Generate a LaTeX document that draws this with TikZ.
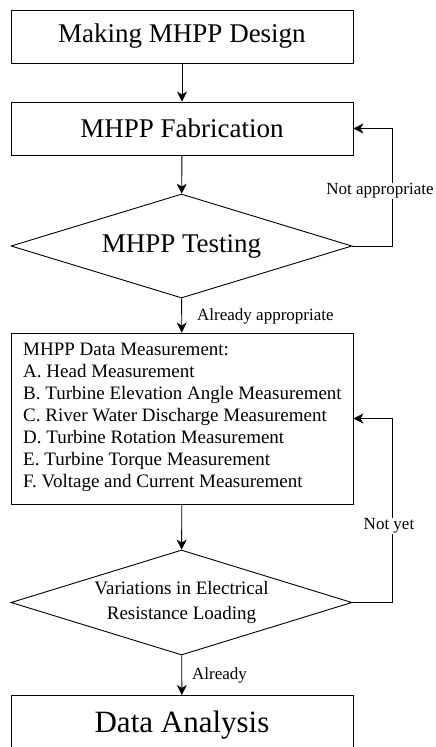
\documentclass[tikz,border=0pt]{standalone}
\usepackage{fontspec}
\setmainfont{Liberation Serif}
\usetikzlibrary{shapes.geometric,arrows.meta}
\tikzset{
  stepbox/.style={draw, line width=0.9pt, minimum width=342, inner sep=0pt},
  decision/.style={draw, diamond, line width=0.9pt, shape aspect=3.28, inner sep=0pt, align=center},
  flow/.style={line width=0.9pt, -{Stealth[length=10pt,width=10pt,inset=3pt]}},
  branch/.style={font=\fontsize{17}{20}\selectfont, inner sep=1pt},
  big/.style={font=\fontsize{27}{32}\selectfont},
}
\begin{document}
\begin{tikzpicture}[x=1pt,y=-1pt]
\useasboundingbox (0,0) rectangle (436,747);
\clip (0,0) rectangle (436,747);

\node[stepbox, big, minimum height=53] (design) at (182,36.5) {Making MHPP Design};
\node[stepbox, big, minimum height=53] (fab) at (182,128.5) {MHPP Fabrication};
\node[decision, big, minimum width=341, minimum height=104] (test) at (181.5,246) {MHPP Testing};
\node[stepbox, minimum height=171] (meas) at (182,418.5) {};
\node[anchor=north west, inner sep=0pt, align=left,
      font=\fontsize{19}{22}\selectfont] (meastext) at (23,343)
  {MHPP Data Measurement:\\
   A. Head Measurement\\
   B. Turbine Elevation Angle Measurement\\
   C. River Water Discharge Measurement\\
   D. Turbine Rotation Measurement\\
   E. Turbine Torque Measurement\\
   F. Voltage and Current Measurement};
\node[decision, minimum width=341, minimum height=105, font=\fontsize{19}{25}\selectfont] (load) at (181.5,602.5)
  {Variations in Electrical\\Resistance Loading};
\node[stepbox, minimum height=80, anchor=north, font=\fontsize{31}{36}\selectfont,
      text depth=27pt] (analysis) at (182,695) {Data Analysis};

\draw[flow] (design) -- (fab);
\draw[flow] (fab) -- (test);
\draw[flow] (test) -- (meas);
\draw[flow] (meas) -- (load);
\draw[flow] (load) -- (analysis);

\coordinate (r1) at (392,246);
\coordinate (r2) at (392,602.5);
\draw[flow] (test.east) -- (r1) |- (fab.east);
\draw[flow] (load.east) -- (r2) |- (meas.east);

\node[branch, fill=white] (notapp) at (380,191) {Not appropriate};
\node[branch, fill=white] (notyet) at (389,526) {Not yet};
\node[branch, anchor=west] (already1) at (196,316) {Already appropriate};
\node[branch, anchor=west] (already2) at (191,675) {Already};
\end{tikzpicture}
\end{document}
